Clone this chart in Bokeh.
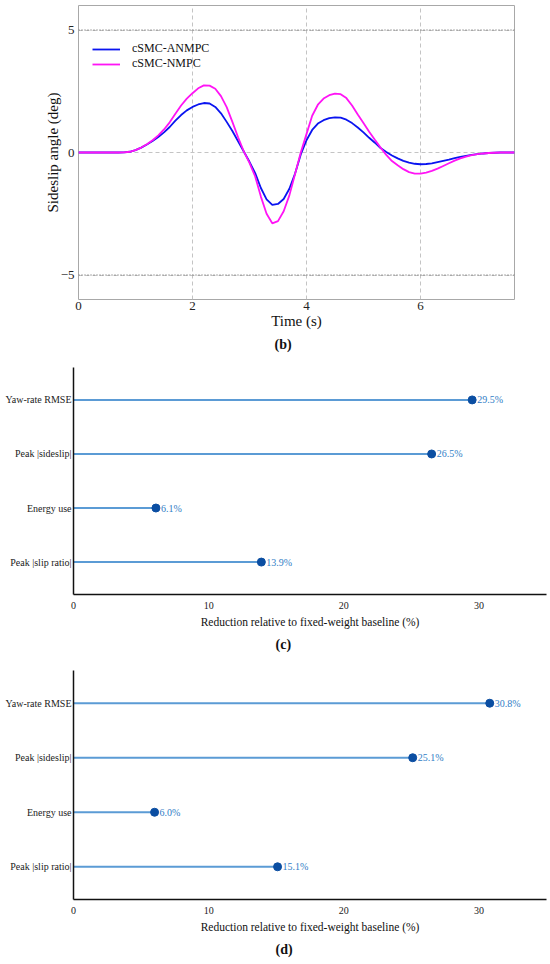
from bokeh.plotting import figure
from bokeh.models import (Legend, LegendItem, Span, Title, ColumnDataSource,
                          Range1d, FixedTicker)
from bokeh.embed import file_html
from bokeh.resources import INLINE
from bokeh.core.properties import value

# ---------------- data ----------------
time_s = [round(i * 0.1, 1) for i in range(77)] + [7.65]

sideslip_anmpc = [
    0, 0, 0, 0, 0, 0, 0, 0, 0.005, 0.03,          # 0.0 - 0.9
    0.1, 0.2, 0.33, 0.47, 0.63, 0.82, 1.04, 1.3, 1.53, 1.72,   # 1.0 - 1.9
    1.86, 1.96, 2.02, 2.0, 1.86, 1.6, 1.25, 0.88, 0.46, 0.04,  # 2.0 - 2.9
    -0.38, -0.84, -1.45, -1.91, -2.14, -2.1, -1.9, -1.48, -0.86, -0.08,  # 3.0 - 3.9
    0.5, 0.92, 1.18, 1.32, 1.4, 1.43, 1.42, 1.34, 1.2, 1.02,   # 4.0 - 4.9
    0.82, 0.6, 0.4, 0.18, 0.02, -0.12, -0.24, -0.34, -0.41, -0.46,  # 5.0 - 5.9
    -0.48, -0.47, -0.44, -0.39, -0.34, -0.29, -0.23, -0.18, -0.14, -0.1,  # 6.0 - 6.9
    -0.07, -0.04, -0.02, -0.01, 0, 0, 0, 0,        # 7.0 - 7.65
]

sideslip_nmpc = [
    0, 0, 0, 0, 0, 0, 0, 0, 0.005, 0.03,
    0.1, 0.2, 0.34, 0.5, 0.7, 0.94, 1.23, 1.58, 1.92, 2.2,
    2.42, 2.62, 2.74, 2.73, 2.6, 2.3, 1.85, 1.25, 0.62, 0.05,
    -0.42, -0.98, -1.8, -2.5, -2.89, -2.8, -2.4, -1.75, -0.88, 0.0,
    0.75, 1.5, 1.95, 2.2, 2.34, 2.4, 2.38, 2.22, 1.92, 1.55,
    1.2, 0.85, 0.52, 0.2, -0.1, -0.35, -0.52, -0.68, -0.8, -0.86,
    -0.86, -0.82, -0.75, -0.66, -0.55, -0.44, -0.33, -0.24, -0.17, -0.11,
    -0.07, -0.04, -0.02, -0.01, 0, 0, 0, 0,
]

series_names = ["cSMC-ANMPC", "cSMC-NMPC"]
ref_levels = [5, -5]
time_ticks = [0, 2, 4, 6]
slip_ticks = [-5, 0, 5]

categories = ["Yaw-rate RMSE", "Peak |sideslip|", "Energy use", "Peak |slip ratio|"]
reduction_c = [29.5, 26.5, 6.1, 13.9]
reduction_d = [30.8, 25.1, 6.0, 15.1]
reduction_ticks = [0, 10, 20, 30]

SERIF = "Liberation Serif"


def strip_axis(ax):
    ax.major_tick_out = 0
    ax.major_tick_in = 0
    ax.minor_tick_out = 0
    ax.minor_tick_in = 0


def caption_title(text, offset, standoff):
    return Title(text=text, align="left", offset=offset, standoff=standoff,
                 vertical_align="top", text_font=SERIF, text_font_size="14px",
                 text_font_style="bold", text_color="#111111")


# ---------------- panel (b) ----------------
pb = figure(width=550, height=358, min_border_left=78, min_border_right=36,
            min_border_top=5, min_border_bottom=59,
            x_range=Range1d(0, 7.65), y_range=Range1d(-6, 6),
            output_backend="svg", toolbar_location=None)
pb.outline_line_color = "#a8a8a8"
pb.outline_line_width = 1

for ax in (pb.xaxis[0], pb.yaxis[0]):
    strip_axis(ax)
    ax.axis_line_color = None
    ax.major_label_text_font = SERIF
    ax.major_label_text_font_size = "13px"
    ax.major_label_text_color = "#222222"
    ax.axis_label_text_font = SERIF
    ax.axis_label_text_font_size = "15px"
    ax.axis_label_text_font_style = "normal"
    ax.axis_label_text_color = "#111111"

pb.xaxis.ticker = FixedTicker(ticks=time_ticks)
pb.yaxis.ticker = FixedTicker(ticks=slip_ticks)
pb.yaxis.major_label_overrides = {-5: "\u22125"}
pb.xaxis.axis_label = "Time (s)"
pb.yaxis.axis_label = "Sideslip angle (deg)"
pb.xaxis.major_label_standoff = 2
pb.xaxis.axis_label_standoff = 0
pb.yaxis.major_label_standoff = 4
pb.yaxis.axis_label_standoff = -3

pb.xgrid.ticker = FixedTicker(ticks=time_ticks)
pb.ygrid.ticker = FixedTicker(ticks=slip_ticks)
for g in (pb.xgrid[0], pb.ygrid[0]):
    g.grid_line_color = "#c4c4c4"
    g.grid_line_dash = "4 3"
    g.grid_line_width = 1

for lv in ref_levels:
    pb.add_layout(Span(location=lv, dimension="width", line_color="#555555",
                       line_dash="1 2", line_width=1))

src = ColumnDataSource(dict(t=time_s, a=sideslip_anmpc, n=sideslip_nmpc))
r_a = pb.line("t", "a", source=src, line_color="#0a14f0", line_width=1.8)
r_n = pb.line("t", "n", source=src, line_color="#ff14f5", line_width=1.8)

leg = Legend(items=[LegendItem(label=series_names[0], renderers=[r_a]),
                    LegendItem(label=series_names[1], renderers=[r_n])],
             location=(14, 228))
leg.border_line_color = None
leg.background_fill_alpha = 0
leg.padding = 0
leg.margin = 0
leg.spacing = -3
leg.glyph_height = 12
leg.glyph_width = 28
leg.label_height = 12
leg.label_standoff = 12
leg.label_text_font = SERIF
leg.label_text_font_size = "12px"
leg.label_text_color = "#111111"
pb.add_layout(leg)

pb.add_layout(caption_title("(b)", 196, 10), "below")


# ---------------- panels (c), (d) ----------------
def lollipop(vals, caption, height, top, bottom, cap_standoff):
    n = len(categories)
    ypos = [n - 1 - i for i in range(n)]   # first category on top
    p = figure(width=550, height=height, min_border_left=73, min_border_right=4,
               min_border_top=top, min_border_bottom=bottom,
               x_range=Range1d(0, 35), y_range=Range1d(-0.6, n - 0.4),
               output_backend="svg", toolbar_location=None)
    p.outline_line_color = None
    p.xgrid.grid_line_color = None
    p.ygrid.grid_line_color = None
    for ax in (p.xaxis[0], p.yaxis[0]):
        strip_axis(ax)
        ax.axis_line_color = "#111111"
        ax.axis_line_width = 1.5
        ax.major_label_text_font = SERIF
        ax.major_label_text_font_size = "10px"
        ax.major_label_text_color = "#222222"
        ax.axis_label_text_font = SERIF
        ax.axis_label_text_font_size = "11.5px"
        ax.axis_label_text_font_style = "normal"
        ax.axis_label_text_color = "#111111"
    p.xaxis.ticker = FixedTicker(ticks=reduction_ticks)
    p.xaxis.axis_label = "Reduction relative to fixed-weight baseline (%)"
    p.xaxis.major_label_standoff = 7
    p.xaxis.axis_label_standoff = 4
    p.yaxis.ticker = FixedTicker(ticks=ypos)
    p.yaxis.major_label_overrides = {yy: cat for yy, cat in zip(ypos, categories)}
    p.yaxis.major_label_standoff = 2

    s = ColumnDataSource(dict(y=ypos, v=vals, zero=[0] * n,
                              lbl=[f"{v:.1f}%" for v in vals]))
    p.segment(x0="zero", y0="y", x1="v", y1="y", source=s,
              line_color="#5b9bd5", line_width=2)
    p.scatter("v", "y", source=s, size=8, fill_color="#0b4ea2", line_color="#0b4ea2")
    p.text("v", "y", text="lbl", source=s, x_offset=5, text_baseline="middle",
           text_font=value(SERIF), text_font_size="10px", text_color="#2f7dc6")
    p.add_layout(caption_title(caption, 202, cap_standoff), "below")
    return p


pc = lollipop(reduction_c, "(c)", 302, 9, 64, 13)
pd = lollipop(reduction_d, "(d)", 304, 10, 65, 12)

open("out.html", "w").write(file_html([pb, pc, pd], INLINE))
